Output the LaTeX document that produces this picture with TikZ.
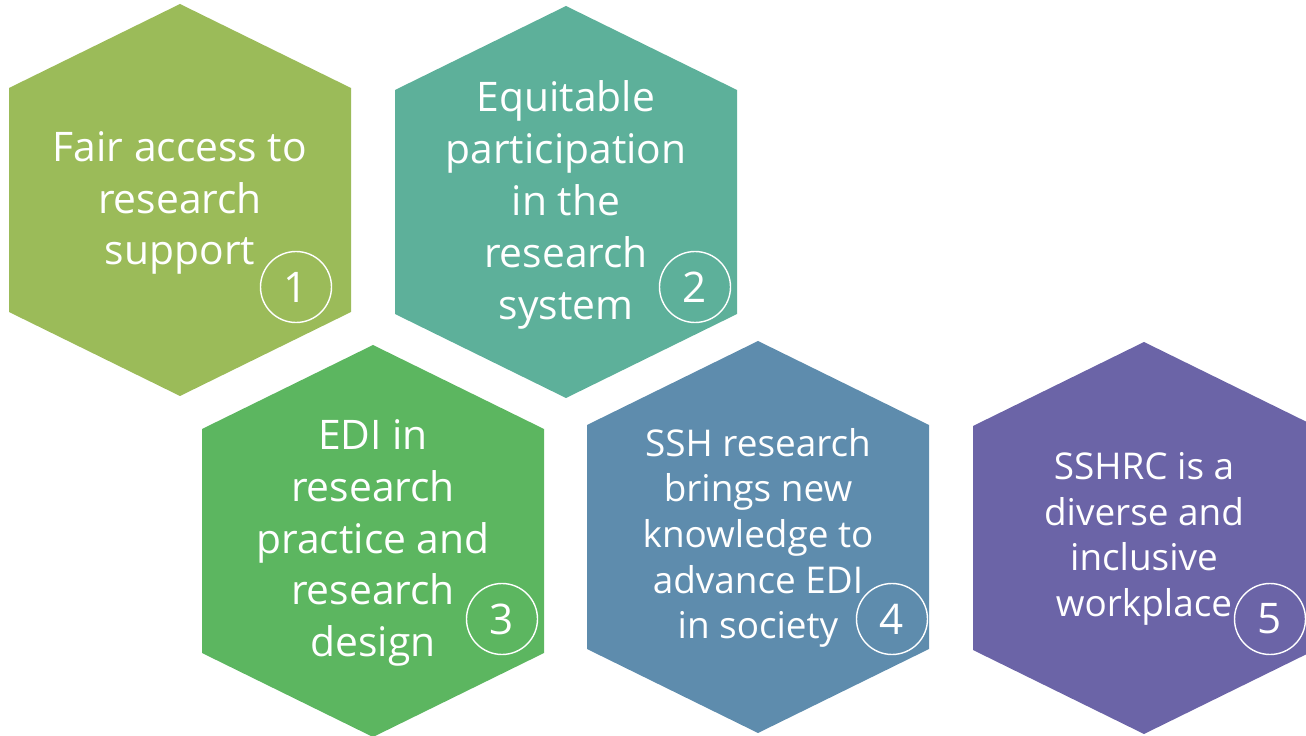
\documentclass[tikz,border=0pt]{standalone}
\usepackage{fontspec}
\setmainfont{Open Sans}
\usepackage{tikz}

\definecolor{hexolive}{RGB}{155,187,89}
\definecolor{hexteal}{RGB}{93,176,154}
\definecolor{hexgreen}{RGB}{92,182,96}
\definecolor{hexblue}{RGB}{94,140,173}
\definecolor{hexviolet}{RGB}{107,100,167}

\begin{document}
\begin{tikzpicture}[x=0.02cm, y=-0.02cm,
    label/.style = {text=white, align=center, font=\fontsize{23.2}{29.5}\selectfont},
    smalllabel/.style = {label, font=\fontsize{21}{26}\selectfont},
    num/.style = {circle, draw=white, line width=0.8pt, minimum size=71*0.02cm,
        inner sep=0pt, text=white, font=\fontsize{24}{24}\selectfont}]
    \useasboundingbox (0,0) rectangle (1306,736);

    % Hexagons
    \fill[hexolive]  (180,200) ++(0,-196) -- ++(171,84) -- ++(0,224) -- ++(-171,84) -- ++(-171,-84) -- ++(0,-224) -- cycle;
    \fill[hexteal]   (566,202) ++(0,-196) -- ++(171,84) -- ++(0,224) -- ++(-171,84) -- ++(-171,-84) -- ++(0,-224) -- cycle;
    \fill[hexgreen]  (373,541) ++(0,-196) -- ++(171,84) -- ++(0,224) -- ++(-171,84) -- ++(-171,-84) -- ++(0,-224) -- cycle;
    \fill[hexblue]   (758,537) ++(0,-196) -- ++(171,84) -- ++(0,224) -- ++(-171,84) -- ++(-171,-84) -- ++(0,-224) -- cycle;
    \fill[hexviolet] (1144,538) ++(0,-196) -- ++(171,84) -- ++(0,224) -- ++(-171,84) -- ++(-171,-84) -- ++(0,-224) -- cycle;

    % Texts
    \node[label] (t1) at (180,203) {Fair access to\\research\\support};
    \node[label] (t2) at (566,205) {Equitable\\participation\\in the\\research\\system};
    \node[label] (t3) at (373,543) {EDI in\\research\\practice and\\research\\design};
    \node[smalllabel] (t4) at (758,538) {SSH research\\brings new\\knowledge to\\advance EDI\\in society};
    \node[smalllabel] (t5) at (1144,539) {SSHRC is a\\diverse and\\inclusive\\workplace};

    % Numbers
    \node[num] (n1) at (296,287) {1};
    \node[num] (n2) at (695,287) {2};
    \node[num] (n3) at (502,619) {3};
    \node[num] (n4) at (892,619) {4};
    \node[num] (n5) at (1270,619) {5};

\end{tikzpicture}
\end{document}
